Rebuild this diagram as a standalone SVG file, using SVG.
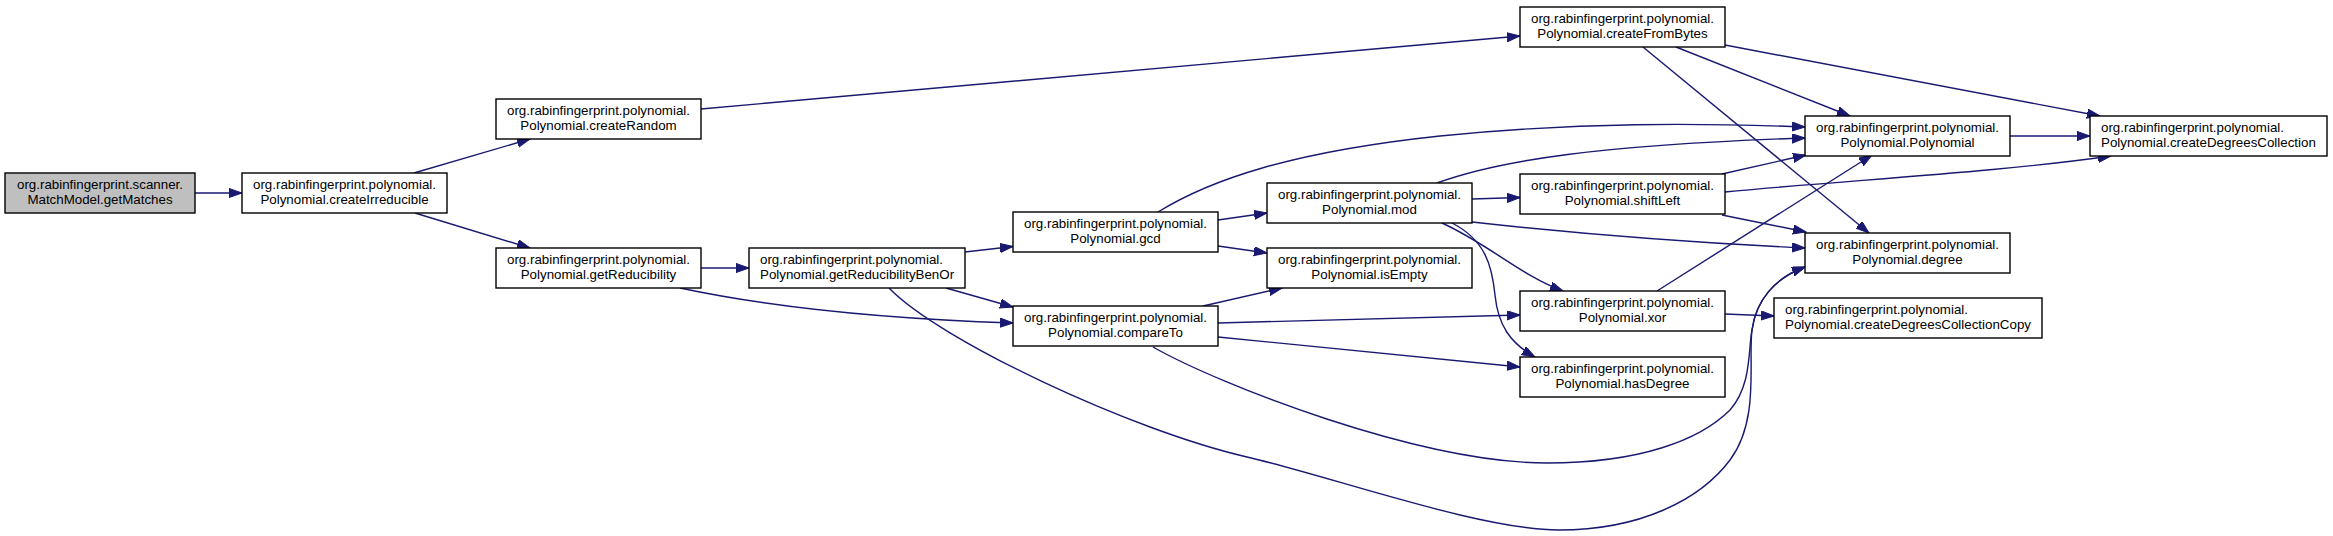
<svg xmlns="http://www.w3.org/2000/svg" width="2333" height="536" viewBox="0 0 2333 536">
<style>
  .node rect { fill: #ffffff; stroke: #000000; stroke-width: 1.4; }
  .node.root rect { fill: #bfbfbf; }
  .node text { font-family: "Liberation Sans", Arial, sans-serif; font-size: 13.33px; fill: #000000; text-anchor: middle; }
  .node text.l { text-anchor: start; }
  .edges path { fill: none; stroke: #191970; stroke-width: 1.4; marker-end: url(#arrow); }
</style>
<defs>
  <marker id="arrow" markerUnits="userSpaceOnUse" markerWidth="14" markerHeight="10" refX="13" refY="4.6" orient="auto">
    <path d="M0,0 L13,4.6 L0,9.2 z" fill="#191970" stroke="#191970" stroke-width="1"/>
  </marker>
</defs>
<rect x="0" y="0" width="2333" height="536" fill="#ffffff"/>

<g id="edges" class="edges">
  <path d="M195,193 L242,193"/>
  <path d="M414,173 L530,139"/>
  <path d="M415,213 L530,248"/>
  <path d="M701,109 L1520,36"/>
  <path d="M701,268 L749,268"/>
  <path d="M680,288 C760,305 860,318 1013,323"/>
  <path d="M965,252 L1013,246.5"/>
  <path d="M946,288 L1013,307"/>
  <path d="M889,288 C939,340 1130,430 1247,457 C1330,476 1480,530 1559,530 C1640,530 1700,500 1730,460 C1760,420 1748,360 1752,330 C1756,300 1775,278 1805,267"/>
  <path d="M1153,347 C1220,385 1420,463 1547,463 C1640,463 1700,440 1730,410 C1752,385 1748,350 1752,330 C1756,300 1775,278 1805,267"/>
  <path d="M1218,220 L1267,213"/>
  <path d="M1218,246 L1267,253"/>
  <path d="M1158,212 C1210,180 1290,152 1440,136 C1580,122 1700,123 1805,127"/>
  <path d="M1437,183 C1500,160 1600,145 1805,138"/>
  <path d="M1472,199 L1520,197.5"/>
  <path d="M1472,222 C1580,234 1700,243 1805,248"/>
  <path d="M1442,223 C1490,245 1520,275 1563,291"/>
  <path d="M1452,223 C1485,240 1492,265 1495,295 C1498,325 1510,343 1535,357"/>
  <path d="M1722,174 L1806,155"/>
  <path d="M1725,192 C1850,180 2000,172 2111,156"/>
  <path d="M1722,215 L1806,232"/>
  <path d="M2010,136 L2090,136"/>
  <path d="M1676,47 L1850,116"/>
  <path d="M1725,45 L2100,116"/>
  <path d="M1643,47 L1869,233"/>
  <path d="M1657,291 L1872,155"/>
  <path d="M1725,314 L1774,316"/>
  <path d="M1203,306 L1282,288"/>
  <path d="M1218,323 L1520,315"/>
  <path d="M1218,337 L1520,367"/>
</g>

<g id="getMatches" class="node root">
  <rect x="5" y="173" width="190" height="40"/>
  <text x="100" y="189">org.rabinfingerprint.scanner.</text>
  <text x="100" y="204">MatchModel.getMatches</text>
</g>
<g id="createIrreducible" class="node">
  <rect x="242" y="173" width="205" height="40"/>
  <text x="344.5" y="189">org.rabinfingerprint.polynomial.</text>
  <text x="344.5" y="204">Polynomial.createIrreducible</text>
</g>
<g id="createRandom" class="node">
  <rect x="496" y="99" width="205" height="40"/>
  <text x="598.5" y="115">org.rabinfingerprint.polynomial.</text>
  <text x="598.5" y="130">Polynomial.createRandom</text>
</g>
<g id="getReducibility" class="node">
  <rect x="496" y="248" width="205" height="40"/>
  <text x="598.5" y="264">org.rabinfingerprint.polynomial.</text>
  <text x="598.5" y="279">Polynomial.getReducibility</text>
</g>
<g id="getReducibilityBenOr" class="node">
  <rect x="749" y="248" width="216" height="40"/>
  <text class="l" x="760" y="264">org.rabinfingerprint.polynomial.</text>
  <text class="l" x="760" y="279">Polynomial.getReducibilityBenOr</text>
</g>
<g id="gcd" class="node">
  <rect x="1013" y="212" width="205" height="40"/>
  <text x="1115.5" y="228">org.rabinfingerprint.polynomial.</text>
  <text x="1115.5" y="243">Polynomial.gcd</text>
</g>
<g id="compareTo" class="node">
  <rect x="1013" y="306" width="205" height="40"/>
  <text x="1115.5" y="322">org.rabinfingerprint.polynomial.</text>
  <text x="1115.5" y="337">Polynomial.compareTo</text>
</g>
<g id="mod" class="node">
  <rect x="1267" y="183" width="205" height="40"/>
  <text x="1369.5" y="199">org.rabinfingerprint.polynomial.</text>
  <text x="1369.5" y="214">Polynomial.mod</text>
</g>
<g id="isEmpty" class="node">
  <rect x="1267" y="248" width="205" height="40"/>
  <text x="1369.5" y="264">org.rabinfingerprint.polynomial.</text>
  <text x="1369.5" y="279">Polynomial.isEmpty</text>
</g>
<g id="createFromBytes" class="node">
  <rect x="1520" y="7" width="205" height="40"/>
  <text x="1622.5" y="23">org.rabinfingerprint.polynomial.</text>
  <text x="1622.5" y="38">Polynomial.createFromBytes</text>
</g>
<g id="shiftLeft" class="node">
  <rect x="1520" y="174" width="205" height="40"/>
  <text x="1622.5" y="190">org.rabinfingerprint.polynomial.</text>
  <text x="1622.5" y="205">Polynomial.shiftLeft</text>
</g>
<g id="xor" class="node">
  <rect x="1520" y="291" width="205" height="40"/>
  <text x="1622.5" y="307">org.rabinfingerprint.polynomial.</text>
  <text x="1622.5" y="322">Polynomial.xor</text>
</g>
<g id="hasDegree" class="node">
  <rect x="1520" y="357" width="205" height="40"/>
  <text x="1622.5" y="373">org.rabinfingerprint.polynomial.</text>
  <text x="1622.5" y="388">Polynomial.hasDegree</text>
</g>
<g id="Polynomial" class="node">
  <rect x="1805" y="116" width="205" height="40"/>
  <text x="1907.5" y="132">org.rabinfingerprint.polynomial.</text>
  <text x="1907.5" y="147">Polynomial.Polynomial</text>
</g>
<g id="degree" class="node">
  <rect x="1805" y="233" width="205" height="40"/>
  <text x="1907.5" y="249">org.rabinfingerprint.polynomial.</text>
  <text x="1907.5" y="264">Polynomial.degree</text>
</g>
<g id="createDegreesCollection" class="node">
  <rect x="2090" y="116" width="237" height="40"/>
  <text class="l" x="2101" y="132">org.rabinfingerprint.polynomial.</text>
  <text class="l" x="2101" y="147">Polynomial.createDegreesCollection</text>
</g>
<g id="createDegreesCollectionCopy" class="node">
  <rect x="1774" y="298" width="268" height="40"/>
  <text class="l" x="1785" y="314">org.rabinfingerprint.polynomial.</text>
  <text class="l" x="1785" y="329">Polynomial.createDegreesCollectionCopy</text>
</g>
</svg>
